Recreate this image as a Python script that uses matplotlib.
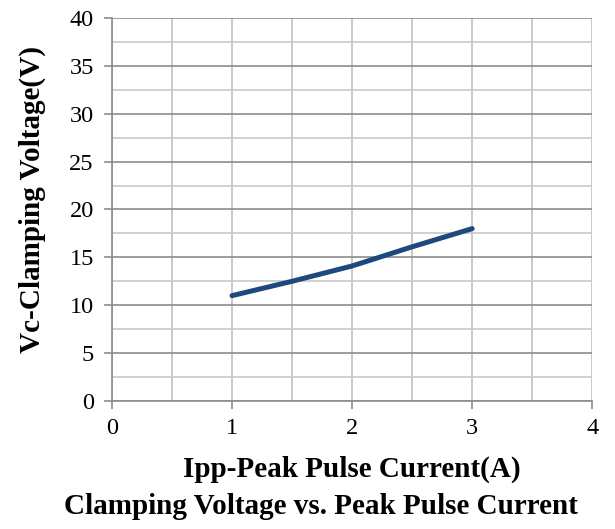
import numpy as np
import matplotlib.pyplot as plt
from matplotlib.ticker import MultipleLocator

# values
current = [1.0, 1.5, 2.0, 2.5, 3.0]
clamp_v = [11.0, 12.5, 14.1, 16.1, 18.0]

plt.rcParams['font.family'] = ['Liberation Serif', 'DejaVu Serif']

fig = plt.figure(figsize=(6.15, 5.29), dpi=100)
ax = fig.add_axes([0.182, 0.242, 0.781, 0.724])

ax.set_xlim(0, 4)
ax.set_ylim(0, 40)
ax.xaxis.set_major_locator(MultipleLocator(1))
ax.xaxis.set_minor_locator(MultipleLocator(0.5))
ax.yaxis.set_major_locator(MultipleLocator(5))
ax.yaxis.set_minor_locator(MultipleLocator(2.5))

ax.grid(which='major', axis='y', color='#8c8c8c', lw=1.2)
ax.grid(which='minor', axis='y', color='#c8c8c8', lw=1.2)
ax.grid(which='both', axis='x', color='#c0c0c0', lw=1.2)
ax.set_axisbelow(True)

for s in ['top', 'right']:
    ax.spines[s].set_visible(False)
ax.spines['left'].set_color('#8c8c8c')
ax.spines['bottom'].set_color('#8c8c8c')
ax.spines['left'].set_linewidth(1.2)
ax.spines['bottom'].set_linewidth(1.2)

ax.tick_params(which='major', length=5.5, width=1.2, color='#8c8c8c', labelsize=17.5)
ax.tick_params(axis='x', pad=7)
ax.tick_params(axis='y', pad=7.5)
ax.tick_params(which='minor', length=0)

ax.plot(current, clamp_v, color='#1f497d', lw=3.6, solid_capstyle='round')

fig.text(0.052, 0.622, 'Vc-Clamping Voltage(V)', rotation=90, ha='center', va='center',
         fontsize=21, fontweight='bold')
fig.text(0.572, 0.112, 'Ipp-Peak Pulse Current(A)', ha='center', va='center',
         fontsize=21, fontweight='bold')
fig.text(0.522, 0.043, 'Clamping Voltage vs. Peak Pulse Current', ha='center', va='center',
         fontsize=21, fontweight='bold')

fig.savefig('out.png', dpi=100)
